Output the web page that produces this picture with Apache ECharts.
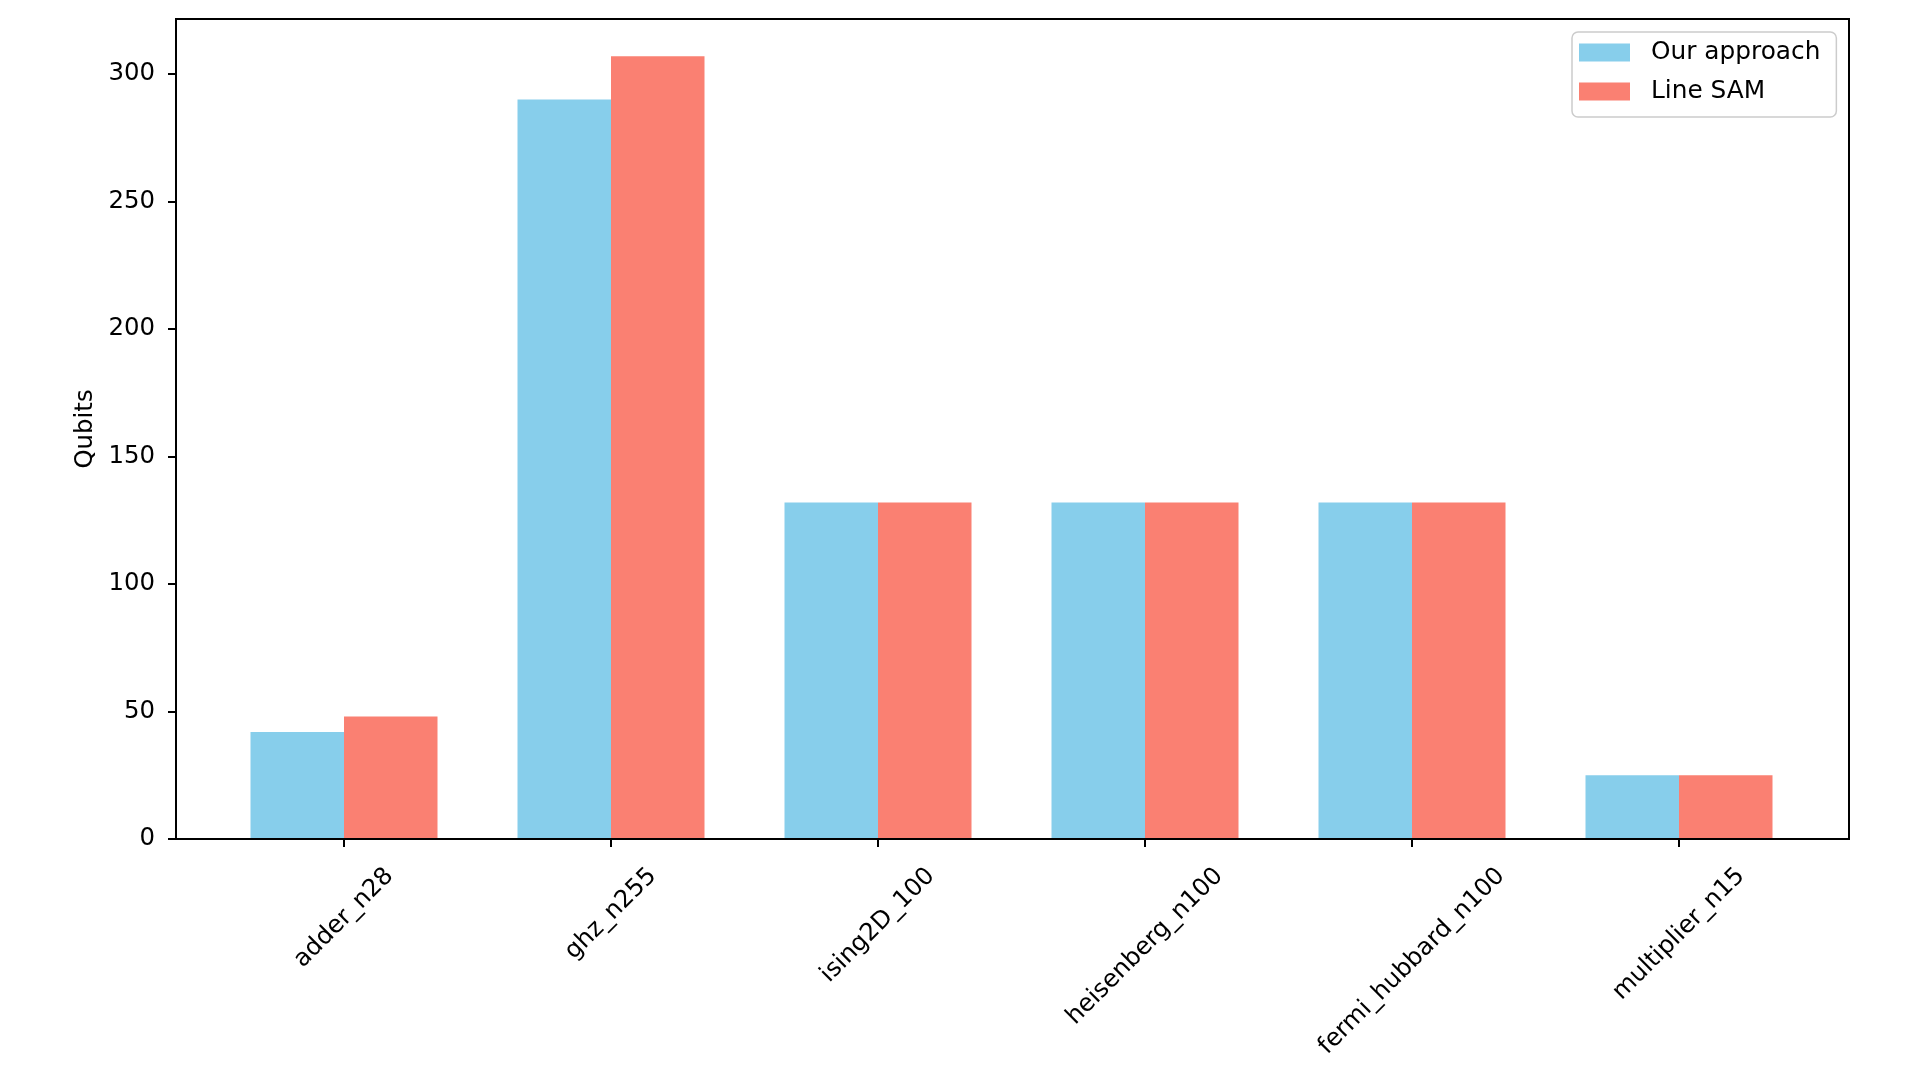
<!DOCTYPE html>
<html>
<head>
<meta charset="utf-8">
<script src="https://cdn.jsdelivr.net/npm/echarts@6/dist/echarts.min.js"></script>
<style>
  html, body { margin: 0; padding: 0; background: #fff; }
  #chart { width: 1920px; height: 1080px; }
</style>
</head>
<body>
<div id="chart"></div>
<script>
const categories = ['adder_n28', 'ghz_n255', 'ising2D_100', 'heisenberg_n100', 'fermi_hubbard_n100', 'multiplier_n15'];
const ourApproach = [42, 290, 132, 132, 132, 25];
const lineSAM = [48, 307, 132, 132, 132, 25];
const yTicks = [0, 50, 100, 150, 200, 250, 300];
const seriesNames = ['Our approach', 'Line SAM'];

const FONT = 'DejaVu Sans';
const FS = 24.4;
const Y_MAX = 321.6;

const ctx = document.createElement('canvas').getContext('2d');
ctx.font = FS + 'px "' + FONT + '"';

// matplotlib-style centered 45° tick labels:
// shift along the text with right padding, across it with a leading blank line
const xData = categories.map(function (c) {
  const L = ctx.measureText(c).width;
  const d = 25 + (L + 0.95 * FS) * Math.SQRT1_2 / 2;
  const p = d * Math.SQRT2;
  return {
    value: c,
    textStyle: { align: 'center', verticalAlign: 'middle', padding: [0, p, 0, 0], lineHeight: p }
  };
});

const chart = echarts.init(document.getElementById('chart'), null, { renderer: 'canvas' });

chart.setOption({
  animation: false,
  backgroundColor: '#ffffff',
  textStyle: { fontFamily: FONT },
  grid: [
    { // frame grid
      left: 176, right: 71, top: 19, bottom: 241,
      show: true, borderColor: '#000', borderWidth: 2, backgroundColor: 'transparent',
      z: 5, outerBoundsMode: 'none', containLabel: false
    },
    { // bars grid
      left: 210.5, right: 107.5, top: 19, bottom: 241,
      outerBoundsMode: 'none', containLabel: false
    }
  ],
  legend: {
    orient: 'vertical',
    left: 1572, top: 32,
    padding: [8, 16, 13, 7],
    itemWidth: 51, itemHeight: 18, itemGap: 14,
    icon: 'rect',
    backgroundColor: 'rgba(255,255,255,0.8)',
    borderColor: '#cccccc', borderWidth: 1.5, borderRadius: 6,
    textStyle: { fontFamily: FONT, fontSize: 24.8, color: '#000', lineHeight: 24, padding: [0, 0, 0, 16] },
    data: seriesNames
  },
  xAxis: [
    { gridIndex: 0, type: 'value', min: 0, max: 1, show: false },
    {
      gridIndex: 1, type: 'category', data: xData, boundaryGap: true,
      axisLine: { show: false },
      axisTick: { show: true, alignWithLabel: true, length: 8, lineStyle: { color: '#000', width: 2 } },
      axisLabel: {
        interval: 0, rotate: 45, margin: 0,
        fontFamily: FONT, fontSize: FS, color: '#000',
        formatter: function (v) { return '\n' + v; }
      },
      splitLine: { show: false }
    }
  ],
  yAxis: [
    {
      gridIndex: 0, type: 'value', min: 0, max: Y_MAX,
      name: 'Qubits', nameLocation: 'middle', nameGap: 77,
      nameTextStyle: { fontFamily: FONT, fontSize: FS, color: '#000' },
      axisLine: { show: false },
      axisTick: { show: true, length: 8, customValues: yTicks, lineStyle: { color: '#000', width: 2 } },
      axisLabel: { customValues: yTicks, margin: 21, fontFamily: FONT, fontSize: FS, color: '#000' },
      splitLine: { show: false }
    },
    { gridIndex: 1, type: 'value', min: 0, max: Y_MAX, show: false, splitLine: { show: false } }
  ],
  series: [
    {
      name: seriesNames[0], type: 'bar', xAxisIndex: 1, yAxisIndex: 1,
      data: ourApproach, barWidth: 93.5, barGap: '0%',
      itemStyle: { color: '#87CEEB' }
    },
    {
      name: seriesNames[1], type: 'bar', xAxisIndex: 1, yAxisIndex: 1,
      data: lineSAM, barWidth: 93.5, barGap: '0%',
      itemStyle: { color: '#FA8072' }
    }
  ]
});
</script>
</body>
</html>
